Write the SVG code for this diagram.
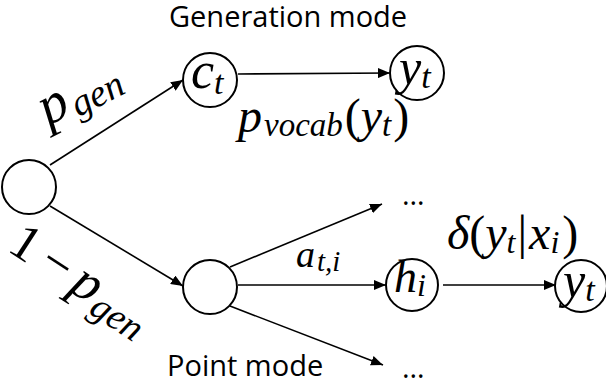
<svg xmlns="http://www.w3.org/2000/svg" width="606" height="385" viewBox="0 0 606 385">
<style>
.node{fill:#fff;stroke:#000;stroke-width:2}
.edge{stroke:#000;stroke-width:1.6;fill:none}
.lbl{font-family:"Open Sans","Liberation Sans",sans-serif;font-size:29px;fill:#000}
.m{font-family:"Liberation Serif","Times New Roman",serif;font-style:italic;fill:#000}
.u{font-style:normal}
</style>
<defs>
<marker id="ah" markerUnits="userSpaceOnUse" markerWidth="13" markerHeight="10" refX="12" refY="5" orient="auto">
<path d="M0,0 L12,5 L0,10 z" fill="#000"/>
</marker>
</defs>
<rect width="606" height="385" fill="#fff"/>
<text class="lbl" x="169" y="27">Generation mode</text>
<text class="lbl" x="167" y="376">Point mode</text>
<g id="connectors">
<line class="edge" x1="50" y1="165" x2="183" y2="80" marker-end="url(#ah)"/>
<line class="edge" x1="50" y1="206" x2="183" y2="286" marker-end="url(#ah)"/>
<line class="edge" x1="238" y1="74" x2="390" y2="73" marker-end="url(#ah)"/>
<line class="edge" x1="230" y1="267" x2="382" y2="204" marker-end="url(#ah)"/>
<line class="edge" x1="238" y1="285" x2="386" y2="285" marker-end="url(#ah)"/>
<line class="edge" x1="230" y1="306" x2="383" y2="365" marker-end="url(#ah)"/>
<line class="edge" x1="443" y1="285" x2="556" y2="285" marker-end="url(#ah)"/>
<text class="m" transform="translate(48,126) rotate(-27)"><tspan font-size="56">p</tspan><tspan font-size="38" dy="6" dx="3">gen</tspan></text>
<text class="m" transform="translate(6,250) rotate(33)"><tspan font-size="52" class="u">1</tspan><tspan font-size="52" class="u" dx="10">−</tspan><tspan font-size="54" dx="8">p</tspan><tspan font-size="38" dy="8" dx="2">gen</tspan></text>
<text class="m" x="238" y="132"><tspan font-size="48">p</tspan><tspan font-size="33" dy="4" dx="2">vocab</tspan><tspan font-size="48" class="u" dy="-4" dx="2">(</tspan><tspan font-size="48">y</tspan><tspan font-size="33" dy="4">t</tspan><tspan font-size="48" class="u" dy="-4" dx="2">)</tspan></text>
<text class="m" x="296" y="267"><tspan font-size="38">a</tspan><tspan font-size="29" dy="4" dx="2">t,i</tspan></text>
<text class="m" x="447" y="249"><tspan font-size="48">δ</tspan><tspan font-size="48" class="u">(</tspan><tspan font-size="48">y</tspan><tspan font-size="32" dy="4">t</tspan><tspan font-size="48" class="u" dy="-4" dx="2">|</tspan><tspan font-size="48" dx="2">x</tspan><tspan font-size="32" dy="4">i</tspan><tspan font-size="48" class="u" dy="-4" dx="3">)</tspan></text>
<text class="lbl" x="402" y="205">…</text>
<text class="lbl" x="402" y="378">…</text>
</g>
<g id="root"><circle class="node" cx="29" cy="187" r="27"/></g>
<g id="ct"><circle class="node" cx="210" cy="80" r="27"/><text class="m" x="191" y="88"><tspan font-size="52">c</tspan><tspan font-size="34" dy="6">t</tspan></text></g>
<g id="yt1"><circle class="node" cx="417" cy="73" r="27"/><text class="m" x="399" y="84"><tspan font-size="50">y</tspan><tspan font-size="34" dy="4">t</tspan></text></g>
<g id="point"><circle class="node" cx="210" cy="287" r="27"/></g>
<g id="hi"><circle class="node" cx="412" cy="285" r="26"/><text class="m" x="394" y="292"><tspan font-size="46">h</tspan><tspan font-size="32" dy="4">i</tspan></text></g>
<g id="yt2"><circle class="node" cx="581" cy="286" r="26"/><text class="m" x="563" y="297"><tspan font-size="50">y</tspan><tspan font-size="34" dy="4">t</tspan></text></g>
</svg>
